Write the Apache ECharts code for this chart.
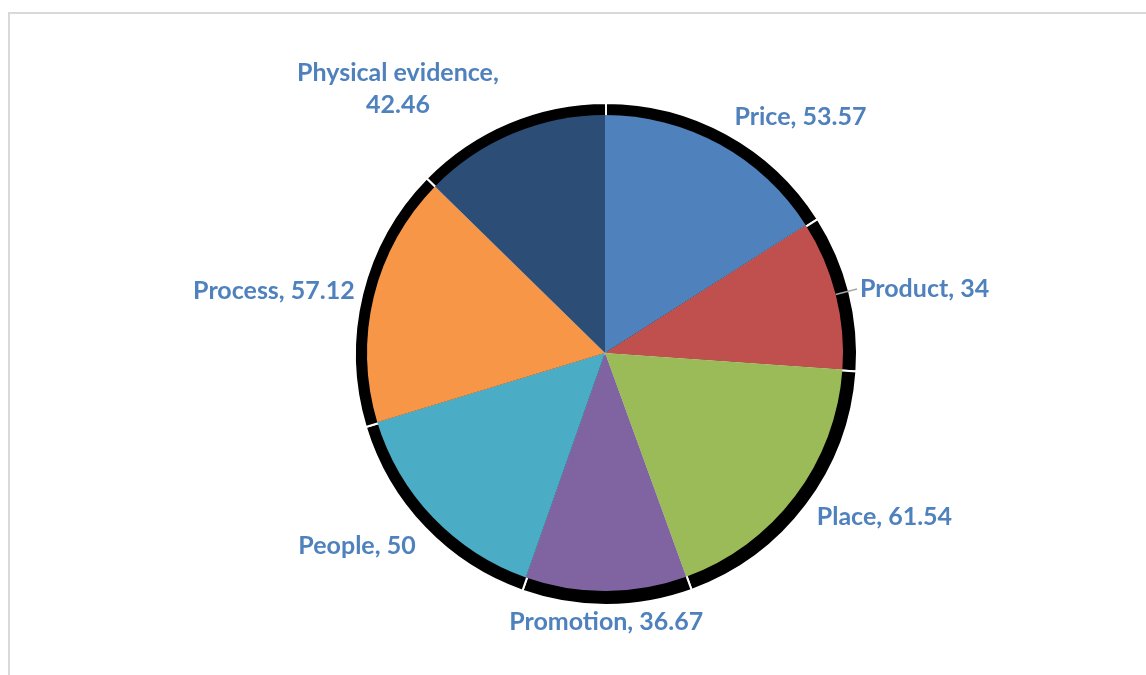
<!DOCTYPE html>
<html>
<head>
<meta charset="utf-8">
<script src="https://cdn.jsdelivr.net/npm/echarts@6/dist/echarts.min.js"></script>
<style>
  html, body { margin: 0; padding: 0; background: #fff; }
  #chart { width: 1146px; height: 675px; }
</style>
</head>
<body>
<div id="chart"></div>
<script>
const categories = ['Price', 'Product', 'Place', 'Promotion', 'People', 'Process', 'Physical evidence'];
const values = [53.57, 34, 61.54, 36.67, 50, 57.12, 42.46];
const colors = ['#4F81BD', '#C0504D', '#9BBB59', '#8064A2', '#4BACC6', '#F79646', '#2C4D75'];

const labelColor = '#4F81BD';
const center = [605, 353];
const radius = 238;

const mainData = categories.map((name, i) => {
  const item = { name: name, value: values[i], itemStyle: { color: colors[i] } };
  if (name === 'Physical evidence') {
    item.label = { formatter: '{b},\n{c}', lineHeight: 32 };
  }
  if (name === 'Product') {
    item.labelLine = { show: true, length: 22, length2: 0, lineStyle: { color: '#A6A6A6', width: 1.5 } };
  }
  return item;
});

const shadowData = categories.map((name, i) => ({ name: name, value: values[i] }));

// small label nudges (layout only)
const nudges = {
  'Product': { dx: 3, dy: 0 },
  'Place': { dx: -3, dy: 2 },
  'People': { dx: 5, dy: 7 },
  'Process': { dx: 11, dy: 2 }
};

const chart = echarts.init(document.getElementById('chart'), null, { renderer: 'canvas' });
chart.setOption({
  backgroundColor: '#ffffff',
  animation: false,
  graphic: [{
    type: 'rect',
    shape: { x: 9, y: 13, width: 1160, height: 700 },
    style: { fill: 'none', stroke: '#D9D9D9', lineWidth: 2 },
    silent: true,
    z: -10
  }],
  series: [
    {
      type: 'pie',
      silent: true,
      center: [center[0] + 1, center[1] + 1],
      radius: radius + 13,
      startAngle: 90,
      clockwise: true,
      z: 1,
      label: { show: false },
      labelLine: { show: false },
      itemStyle: { color: '#000000', borderColor: '#ffffff', borderWidth: 2 },
      data: shadowData
    },
    {
      type: 'pie',
      center: center,
      radius: radius,
      startAngle: 90,
      clockwise: true,
      z: 2,
      avoidLabelOverlap: false,
      itemStyle: { borderWidth: 0 },
      label: {
        show: true,
        position: 'outside',
        formatter: '{b}, {c}',
        color: labelColor,
        fontFamily: 'Lato',
        fontWeight: 'bold',
        fontSize: 25,
        distanceToLabelLine: 0
      },
      labelLine: { show: false, length: 31, length2: 0 },
      labelLayout: function (params) {
        const name = categories[params.dataIndex];
        if (name === 'Promotion') {
          return { dx: -params.labelRect.width / 2 };
        }
        if (name === 'Physical evidence') {
          return { align: 'center', dx: -params.labelRect.width / 2 - 2, dy: -16 };
        }
        return nudges[name] || {};
      },
      data: mainData
    }
  ]
});
</script>
</body>
</html>
